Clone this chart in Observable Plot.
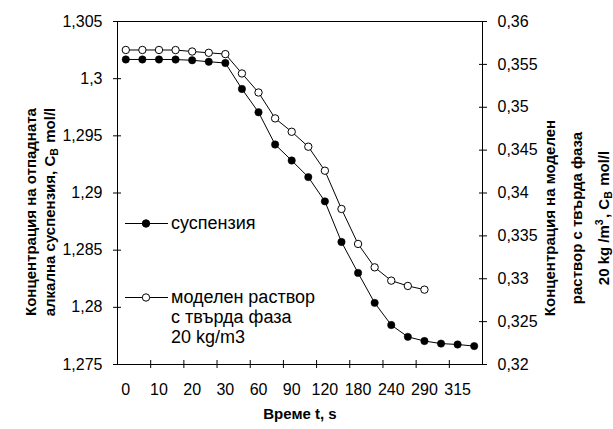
<!DOCTYPE html>
<html><head><meta charset="utf-8">
<script src="https://cdn.jsdelivr.net/npm/d3@7"></script>
<script src="https://cdn.jsdelivr.net/npm/@observablehq/plot@0.6"></script>
<style>
body{margin:0;background:#fff}
svg{font-family:"Liberation Sans",Arial,sans-serif}
</style>
</head><body><div id="chart"></div>
<script>
// time categories (s); every second one is labelled on the axis
const categories = ["0","5","10","15","20","25","30","45","60","75","90","105","120","150","180","210","240","270","290","300","315","330"];
const labelEvery = 2;
// суспензия (left axis, mol/l)
const suspension = [1.30168,1.30168,1.30168,1.30167,1.30161,1.30148,1.30137,1.2991,1.29706,1.29424,1.29284,1.29139,1.28927,1.28572,1.28301,1.28039,1.27845,1.27742,1.27705,1.27683,1.27675,1.27661];
// моделен раствор с твърда фаза 20 kg/m3 (right axis, mol/l)
const model = [0.35668,0.35668,0.35668,0.35667,0.3565,0.35635,0.3562,0.35394,0.35172,0.3487,0.34714,0.3454,0.3426,0.33814,0.33406,0.33133,0.32978,0.32916,0.32873];
const leftTicks = [1.275,1.28,1.285,1.29,1.295,1.3,1.305];
const rightTicks = [0.32,0.325,0.33,0.335,0.34,0.345,0.35,0.355,0.36];

const L0 = leftTicks[0], L1 = leftTicks[leftTicks.length-1];
const R0 = rightTicks[0], R1 = rightTicks[rightTicks.length-1];
const toLeft = v => L0 + (v - R0) * (L1 - L0) / (R1 - R0);
const toRight = v => R0 + (v - L0) * (R1 - R0) / (L1 - L0);
const fmt = v => String(+(+v).toFixed(3)).replace(".", ",");

const n = categories.length;
const labelIdx = d3.range(0, n, labelEvery);
const tickIdx = d3.range(labelEvery - 0.5, n - 1, labelEvery);

const FS = 16;
const plot = Plot.plot({
  width: 613, height: 429,
  marginLeft: 117, marginRight: 131, marginTop: 21, marginBottom: 65,
  style: {fontFamily: "Liberation Sans, Arial, sans-serif", fontSize: FS + "px", background: "#fff", color: "#000"},
  x: {type: "linear", domain: [-0.5, n - 0.5], axis: null},
  y: {domain: [L0, L1], axis: null},
  marks: [
    Plot.frame({stroke: "#000"}),
    Plot.axisY(leftTicks, {anchor: "left", tickSize: 8, dx: 4, tickPadding: 11, tickFormat: fmt, fontSize: FS}),
    Plot.axisY(rightTicks.map(toLeft), {anchor: "right", tickSize: 8, dx: -4, tickPadding: 11, tickFormat: d => fmt(toRight(d)), fontSize: FS}),
    Plot.axisX(tickIdx, {anchor: "bottom", tickSize: 8, dy: -4, tickFormat: () => ""}),
    Plot.axisX(labelIdx, {anchor: "bottom", tickSize: 0, tickPadding: 19, tickFormat: i => categories[i], fontSize: FS}),
    Plot.line(suspension, {x: (d, i) => i, y: d => d, stroke: "#000", strokeWidth: 1}),
    Plot.line(model, {x: (d, i) => i, y: d => toLeft(d), stroke: "#000", strokeWidth: 1}),
    Plot.dot(suspension, {x: (d, i) => i, y: d => d, r: 3.7, fill: "#000", stroke: "#000", strokeWidth: 0.5}),
    Plot.dot(model, {x: (d, i) => i, y: d => toLeft(d), r: 3.7, fill: "#fff", stroke: "#000", strokeWidth: 1})
  ]
});
document.getElementById("chart").appendChild(plot);

const svg = d3.select(plot);
const TF = 15;
function rotTitle(x, y, parts) {
  const t = svg.append("text")
    .attr("transform", `translate(${x},${y}) rotate(-90)`)
    .attr("text-anchor", "middle")
    .attr("font-weight", "bold")
    .attr("font-size", TF)
    .attr("fill", "#000");
  parts.forEach(p => {
    if (typeof p === "string") t.append("tspan").text(p);
    else if (p.sub) { t.append("tspan").attr("font-size", TF * 0.7).attr("dy", 3).text(p.sub); t.append("tspan").attr("dy", -3).text("\u200A"); }
    else if (p.sup) { t.append("tspan").attr("font-size", TF * 0.7).attr("dy", -6).text(p.sup); t.append("tspan").attr("dy", 6).text("\u200A"); }
  });
}
rotTitle(36, 212, ["Концентрация на отпадната"]);
rotTitle(55, 212, ["алкална суспензия, C", {sub: "B"}, " mol/l"]);
rotTitle(555, 218, ["Концентрация на моделен"]);
rotTitle(582, 218, ["раствор с твърда фаза"]);
rotTitle(609, 218, ["20 kg /m", {sup: "3"}, ", C", {sub: "B"}, " mol/l"]);

svg.append("text").attr("x", 300).attr("y", 419).attr("text-anchor", "middle")
  .attr("font-weight", "bold").attr("font-size", TF).attr("fill", "#000").text("Време t, s");

// legend
const LF = 18;
const lg = svg.append("g").attr("font-size", LF).attr("fill", "#000").attr("text-anchor", "start");
function legendItem(y, filled, lines) {
  lg.append("line").attr("x1", 125).attr("x2", 168).attr("y1", y + 0.5).attr("y2", y + 0.5).attr("stroke", "#000").attr("stroke-width", 1);
  lg.append("circle").attr("cx", 146).attr("cy", y + 0.5).attr("r", 3.7).attr("fill", filled ? "#000" : "#fff").attr("stroke", "#000");
  lines.forEach((s, k) => lg.append("text").attr("x", 171).attr("y", y + k * 20).attr("dy", "0.35em").attr("text-anchor", "start").text(s));
}
legendItem(223, true, ["суспензия"]);
legendItem(297, false, ["моделен раствор", "с твърда фаза", "20 kg/m3"]);
</script>
</body></html>
